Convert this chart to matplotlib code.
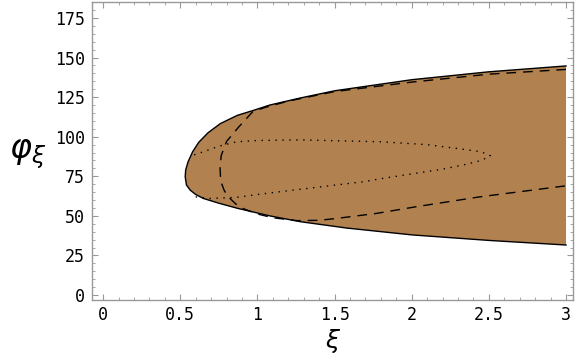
import matplotlib
matplotlib.use("Agg")
import matplotlib.pyplot as plt
from matplotlib.ticker import MultipleLocator

# outer boundary of the region: upper branch from right to the tip, then lower branch back
bound_x = [3.0, 2.5, 2.0, 1.5, 1.28, 1.08, 0.97, 0.87, 0.76, 0.68, 0.62, 0.58, 0.55, 0.535, 0.532,
           0.54, 0.564, 0.6, 0.65, 0.75, 0.87, 1.08, 1.28, 1.58, 2.0, 2.5, 3.0]
bound_y = [144.7, 141, 136, 129, 124.5, 120, 116.5, 113.5, 108.3, 102.5, 96.5, 90.5, 84, 79, 74.7,
           69.5, 66.3, 63.5, 61, 58, 54.8, 50, 46.3, 42.3, 38.0, 34.5, 31.6]

# dashed curve
dash_x = [3.0, 2.5, 2.0, 1.5, 1.2, 1.05, 0.97, 0.88, 0.8, 0.765, 0.758, 0.762, 0.785,
          0.812, 0.86, 0.91, 1.0, 1.1, 1.255, 1.4, 1.514, 1.774, 2.03, 2.44, 3.0]
dash_y = [142.5, 139.5, 134.5, 128.5, 122.5, 118.5, 115.8, 106.3, 97, 88, 80, 72, 66,
          62, 57.5, 54.5, 51.2, 48.8, 47, 47.2, 48.4, 51.6, 55.8, 62, 69]

# dotted curve
dot_x = [0.6, 0.693, 0.866, 1.0, 1.15, 1.277, 1.45, 1.69, 1.8, 2.0, 2.2, 2.35, 2.45, 2.51,
         2.45, 2.3, 2.1, 1.8, 1.277, 1.0, 0.866, 0.75, 0.65, 0.585]
dot_y = [62, 61, 61.7, 63.5, 65.3, 66.8, 68.8, 71.6, 73.5, 76.5, 79.5, 82.5, 85, 88,
         90.5, 92.5, 95, 96.8, 98, 97.6, 96.8, 94, 90.5, 88.4]

fig = plt.figure(figsize=(5.76, 3.56), dpi=100)
ax = fig.add_axes([0.16, 0.157, 0.835, 0.837])

ax.fill(bound_x, bound_y, color="#b1824f", lw=0)
ax.plot(bound_x, bound_y, color="black", lw=1.0)
ax.plot(dash_x, dash_y, color="black", lw=1.0, ls=(0, (7, 5)))
ax.plot(dot_x, dot_y, color="black", lw=1.0, ls=(0, (1, 4)))

ax.set_xlim(-0.071, 3.046)
ax.set_ylim(-3.2, 185)

ax.xaxis.set_minor_locator(MultipleLocator(0.1))
ax.yaxis.set_minor_locator(MultipleLocator(5))
ax.set_xticks([0, 0.5, 1, 1.5, 2, 2.5, 3])
ax.set_xticklabels(["0", "0.5", "1", "1.5", "2", "2.5", "3"])
ax.set_yticks([0, 25, 50, 75, 100, 125, 150, 175])

ax.tick_params(which="both", direction="in", top=True, right=True, color="#999999",
               labelsize=12, labelfontfamily="DejaVu Sans Mono")
ax.tick_params(axis="x", which="major", pad=4)
ax.tick_params(axis="y", which="major", pad=5)
ax.tick_params(which="major", length=4, width=0.8)
ax.tick_params(which="minor", length=2, width=0.6)
for s in ax.spines.values():
    s.set_color("#999999")
    s.set_linewidth(1.0)

ax.set_xlabel(r"$\xi$", fontsize=18, va="center")
ax.xaxis.set_label_coords(0.5, -0.136)
ax.set_ylabel(r"$\varphi_{\xi}$", fontsize=24, rotation=0, va="center")
ax.yaxis.set_label_coords(-0.135, 0.49)

fig.savefig("out.png", dpi=100)
